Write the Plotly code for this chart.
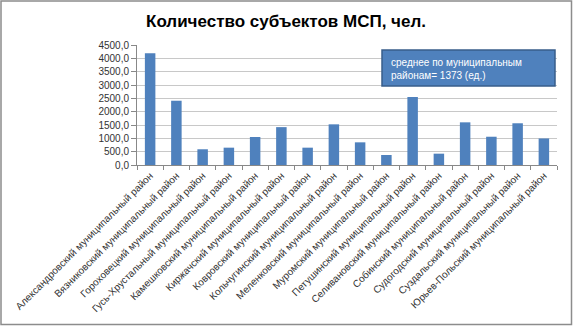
import plotly.graph_objects as go

categories = [
    "Александровский муниципальный район",
    "Вязниковский муниципальный район",
    "Гороховецкий муниципальный район",
    "Гусь-Хрустальный муниципальный район",
    "Камешковский муниципальный район",
    "Киржачский муниципальный район",
    "Ковровский муниципальный район",
    "Кольчугинский муниципальный район",
    "Меленковский муниципальный район",
    "Муромский муниципальный район",
    "Петушинский муниципальный район",
    "Селивановский муниципальный район",
    "Собинский муниципальный район",
    "Судогодский муниципальный район",
    "Суздальский муниципальный район",
    "Юрьев-Польский муниципальный район",
]
values = [4190, 2410, 590, 650, 1050, 1420, 650, 1525, 850, 375, 2550, 425, 1600, 1060, 1565, 995]
y_tickvals = [0, 500, 1000, 1500, 2000, 2500, 3000, 3500, 4000, 4500]
y_ticktext = ["0,0", "500,0", "1000,0", "1500,0", "2000,0", "2500,0", "3000,0", "3500,0", "4000,0", "4500,0"]

W, H = 573, 326
L, R, T, B = 137, 16, 45, 161
pw, ph = W - L - R, H - T - B

def px_x(x):
    return (x - L) / pw

def px_y(y):
    return (H - B - y) / ph

fig = go.Figure(go.Bar(
    x=categories, y=values,
    marker=dict(color="#4F81BD", line=dict(width=0)),
    width=0.4,
))

fig.update_layout(
    width=W, height=H,
    margin=dict(l=L, r=R, t=T, b=B, autoexpand=False),
    paper_bgcolor="white", plot_bgcolor="white",
    showlegend=False,
    font=dict(family="Liberation Sans", size=10, color="#333333"),
    title=dict(text="<b>Количество субъектов МСП, чел.</b>",
               x=px_x(286), xref="paper", xanchor="center",
               y=1 - 21 / H, yanchor="middle",
               font=dict(family="Liberation Sans", size=17, color="black")),
    bargap=0.6,
)
fig.update_yaxes(range=[0, 4500], tickvals=y_tickvals, ticktext=y_ticktext,
                 showgrid=True, gridcolor="#C8C8C8", gridwidth=1,
                 showline=True, linecolor="#888888", ticks="outside",
                 ticklen=5, tickcolor="#888888", zeroline=False,
                 tickfont=dict(size=10), automargin=False)
fig.update_xaxes(tickangle=-45, showline=True, linecolor="#888888",
                 ticks="outside", tickson="boundaries", ticklen=4,
                 tickcolor="#888888", tickfont=dict(size=10),
                 automargin=False)

fig.add_shape(type="rect", xref="paper", yref="paper",
              x0=px_x(382), x1=px_x(555), y0=px_y(86), y1=px_y(50),
              fillcolor="#4F81BD", line=dict(color="#385D8A", width=1.5))
fig.add_annotation(xref="paper", yref="paper", x=px_x(389), y=px_y(68.5),
                   xanchor="left", yanchor="middle", align="left",
                   showarrow=False,
                   text="среднее по муниципальным<br>районам= 1373 (ед.)",
                   font=dict(color="white", size=10))
fig.add_shape(type="rect", xref="paper", yref="paper",
              x0=px_x(1), x1=px_x(571.5), y0=px_y(324.5), y1=px_y(1),
              line=dict(color="#8C8C8C", width=1.5))

fig.write_html("out.html")
